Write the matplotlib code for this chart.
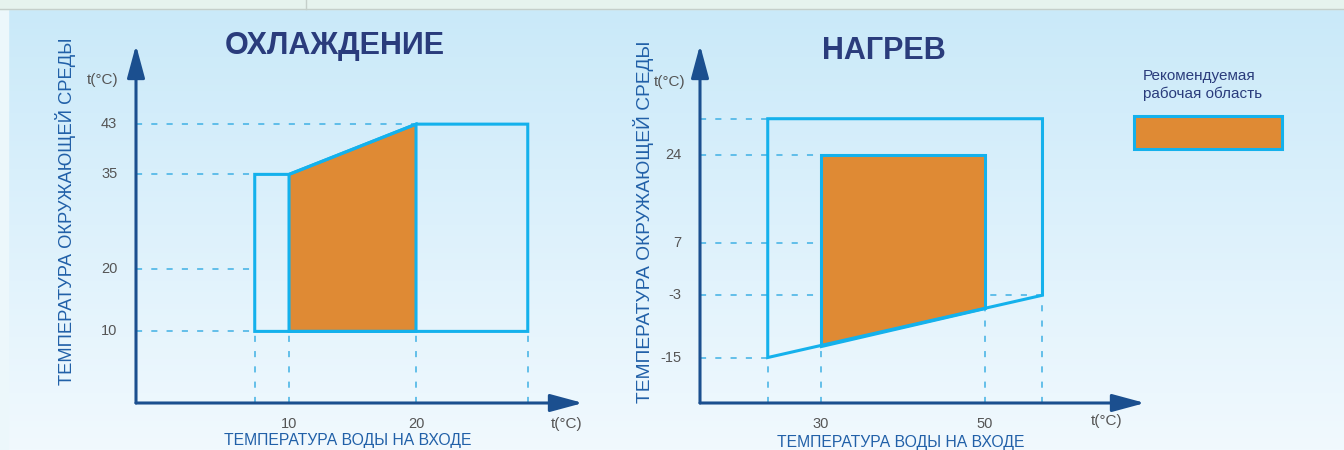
import numpy as np
import matplotlib
matplotlib.use('Agg')
import matplotlib.pyplot as plt
from matplotlib.patches import Polygon, Rectangle
from matplotlib.colors import to_rgb

plt.rcParams['font.family'] = ['Liberation Sans', 'DejaVu Sans']

# --- data: cooling (ОХЛАЖДЕНИЕ) ---
cool_x_ticks = [10, 20]
cool_y_ticks = [10, 20, 35, 43]
cool_outer_x = [7.3, 7.3, 10, 20, 28.8, 28.8]
cool_outer_y = [10, 35, 35, 43, 43, 10]
cool_rec_x = [10, 10, 20, 20]
cool_rec_y = [10, 35, 43, 10]
cool_hdash_y = [10, 20, 35, 43]
cool_hdash_end = [7.3, 7.3, 7.3, 20]
cool_vdash_x = [7.3, 10, 20, 28.8]
cool_vdash_top = [10, 10, 10, 10]

# --- data: heating (НАГРЕВ) ---
heat_x_ticks = [30, 50]
heat_y_ticks = [-15, -3, 7, 24]
heat_outer_x = [23.5, 23.5, 57, 57]
heat_outer_y = [-15, 31, 31, -3]
heat_rec_x = [30, 30, 50, 50]
heat_rec_y = [-12.7, 24, 24, -5.5]
heat_hdash_y = [31, 24, 7, -3, -15]
heat_hdash_end = [23.5, 30, 30, 57, 23.5]
heat_vdash_x = [23.5, 30, 50, 57]
heat_vdash_top = [-15, -12.7, -5.5, -3]

# colours
AXIS = '#1b4f8f'
TITLE = '#2a3c7c'
LABEL = '#2160a8'
GRAY = '#555555'
CYAN = '#14b1ec'
ORANGE = '#df8a34'
DASH = '#3fb0e4'

W, H = 1344, 450
fig = plt.figure(figsize=(W / 100, H / 100), dpi=100)


def fx(x):
    return x / W


def fy(y):
    return 1 - y / H


# background
bg = fig.add_axes([0, 0, 1, 1], zorder=-10)
top_c = np.array(to_rgb('#c9e9f9'))
bot_c = np.array(to_rgb('#f1f9fe'))
t = np.linspace(0, 1, 256)[:, None]
grad = (top_c * (1 - t) + bot_c * t)[:, None, :].repeat(2, axis=1)
bg.imshow(grad, aspect='auto', extent=[0, W, H, 0])
bg.add_patch(Rectangle((0, 0), 8, H, color='#ecf7fb'))
bg.add_patch(Rectangle((0, 0), W, 9, color='#e6f3ee'))
bg.plot([0, W], [9, 9], color='#c5cfca', lw=1)
bg.plot([306, 306], [0, 9], color='#c5cfca', lw=1)
bg.set_xlim(0, W)
bg.set_ylim(H, 0)
bg.axis('off')


def make_chart(box, xlim, ylim):
    x0, y0, x1, y1 = box
    ax = fig.add_axes([fx(x0), fy(y0), fx(x1 - x0), (y0 - y1) / H])
    ax.set_facecolor('none')
    ax.set_xlim(*xlim)
    ax.set_ylim(*ylim)
    for s in ax.spines.values():
        s.set_visible(False)
    ax.set_xticks([])
    ax.set_yticks([])
    arrow = dict(arrowstyle='-|>,head_length=1.0,head_width=0.27', mutation_scale=20,
                 color=AXIS, lw=2.2, shrinkA=0, shrinkB=0)
    ax.annotate('', xy=(1, 0), xytext=(0, 0), xycoords='axes fraction', arrowprops=arrow)
    ax.annotate('', xy=(0, 1), xytext=(0, 0), xycoords='axes fraction', arrowprops=arrow)
    return ax


def draw(ax, xt, yt, ox, oy, rx, ry, hy, hend, vx, vtop):
    xmin, ymin = ax.get_xlim()[0], ax.get_ylim()[0]
    for y, xe in zip(hy, hend):
        ax.plot([xmin, xe], [y, y], color=DASH, lw=1.1, ls=(0, (4, 6)), zorder=1)
    for x, ye in zip(vx, vtop):
        ax.plot([x, x], [ymin, ye], color=DASH, lw=1.1, ls=(0, (4, 6)), zorder=1)
    ax.add_patch(Polygon(list(zip(rx, ry)), closed=True, facecolor=ORANGE,
                         edgecolor=CYAN, lw=2.2, zorder=2))
    ax.add_patch(Polygon(list(zip(ox, oy)), closed=True, fill=False,
                         edgecolor=CYAN, lw=2.2, zorder=3))
    for v in yt:
        ax.annotate(str(v), xy=(0, v), xycoords=('axes fraction', 'data'),
                    xytext=(-13.5, 0), textcoords='offset points',
                    ha='right', va='center', fontsize=10.5, color=GRAY)
    for v in xt:
        ax.annotate(str(v), xy=(v, 0), xycoords=('data', 'axes fraction'),
                    xytext=(0, -15), textcoords='offset points',
                    ha='center', va='center', fontsize=10.5, color=GRAY)


ax1 = make_chart((136, 403, 583, 45), (-2.05, 33.15), (-1.4, 55.6))
draw(ax1, cool_x_ticks, cool_y_ticks, cool_outer_x, cool_outer_y, cool_rec_x, cool_rec_y,
     cool_hdash_y, cool_hdash_end, cool_vdash_x, cool_vdash_top)

ax2 = make_chart((700, 403, 1145, 45), (15.24, 69.5), (-23.76, 45.2))
draw(ax2, heat_x_ticks, heat_y_ticks, heat_outer_x, heat_outer_y, heat_rec_x, heat_rec_y,
     heat_hdash_y, heat_hdash_end, heat_vdash_x, heat_vdash_top)

# titles and labels
fig.text(fx(335), fy(46), 'ОХЛАЖДЕНИЕ', ha='center', va='center', fontsize=22,
         fontweight='bold', color=TITLE)
fig.text(fx(884), fy(51), 'НАГРЕВ', ha='center', va='center', fontsize=22,
         fontweight='bold', color=TITLE)

for x, y, fs in [(66, 211, 13.2), (643, 222, 13.8)]:
    fig.text(fx(x), fy(y), 'ТЕМПЕРАТУРА ОКРУЖАЮЩЕЙ СРЕДЫ', rotation=90, ha='center',
             va='center', fontsize=fs, color=LABEL)
for x, y in [(348, 441), (901, 443)]:
    fig.text(fx(x), fy(y), 'ТЕМПЕРАТУРА ВОДЫ НА ВХОДЕ', ha='center', va='center',
             fontsize=11.3, color=LABEL)

for x, y in [(103, 80), (670, 82), (567, 424), (1107, 421)]:
    fig.text(fx(x), fy(y), 't(°C)', ha='center', va='center', fontsize=11, color=GRAY)

# legend
fig.text(fx(1143), fy(76), 'Рекомендуемая', ha='left', va='center', fontsize=11, color=TITLE)
fig.text(fx(1143), fy(94), 'рабочая область', ha='left', va='center', fontsize=11, color=TITLE)
bg.add_patch(Rectangle((1134, 116), 148, 33, facecolor=ORANGE, edgecolor=CYAN, lw=2.2))

fig.savefig('out.png', dpi=100)
